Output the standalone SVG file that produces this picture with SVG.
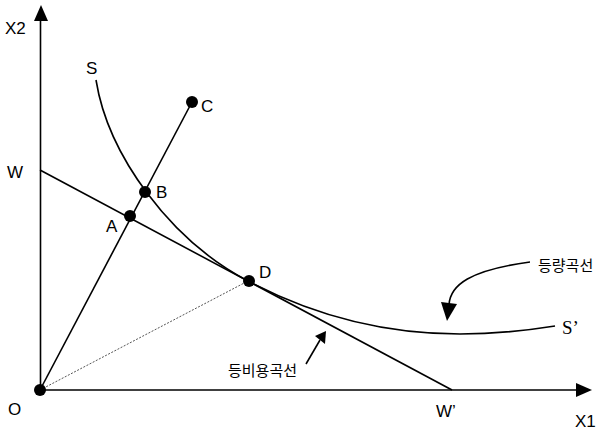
<svg xmlns="http://www.w3.org/2000/svg" width="607" height="432" viewBox="0 0 607 432">
<style>
.ln{stroke:#000;stroke-width:1.6;fill:none}
.lb{font-family:"Liberation Sans",Arial,sans-serif;font-size:17px;fill:#000}
.kr{font-family:"Noto Sans CJK KR",sans-serif;font-size:15px;fill:#000}
.dot{fill:#000}
</style>
<g id="connectors">
<line class="ln" x1="40.5" y1="392" x2="40.5" y2="18"/>
<path d="M34,21 L41,5 L48,21 z" fill="#000"/>
<line class="ln" x1="40" y1="390" x2="578" y2="390"/>
<path d="M576,383 L592,390 L576,397 z" fill="#000"/>
<line class="ln" x1="40" y1="170" x2="452" y2="390"/>
<line class="ln" x1="40" y1="390" x2="192" y2="102"/>
<line x1="40" y1="390" x2="248" y2="281" stroke="#555" stroke-width="1" stroke-dasharray="2,1.5"/>
<path class="ln" d="M96,80 C108,155 170,240 248,281 C320,319 390,334 460,334 C500,334 530,330 555,326"/>
<path class="ln" d="M530,262 C470,270 450,285 449,305"/>
<path d="M441,302 L457,304 L447,321 z" fill="#000"/>
<line class="ln" x1="306" y1="364" x2="320" y2="340"/>
<path d="M315,336 L326,331 L325,344 z" fill="#000"/>
</g>
<g id="O"><circle class="dot" cx="40" cy="390" r="6"/><text class="lb" x="8" y="415">O</text></g>
<g id="A"><circle class="dot" cx="130" cy="216" r="6"/><text class="lb" x="106" y="232">A</text></g>
<g id="B"><circle class="dot" cx="145" cy="192" r="6"/><text class="lb" x="156" y="198">B</text></g>
<g id="C"><circle class="dot" cx="192" cy="102" r="6"/><text class="lb" x="201" y="112">C</text></g>
<g id="D"><circle class="dot" cx="249" cy="281" r="6"/><text class="lb" x="259" y="278">D</text></g>
<g id="W"><text class="lb" x="7" y="178">W</text></g>
<g id="Wp"><text class="lb" x="436" y="417">W’</text></g>
<g id="S"><text class="lb" x="86" y="74">S</text></g>
<g id="Sp"><text x="562" y="334" style="font-family:'Liberation Serif',serif;font-size:19px">S’</text></g>
<g id="X1"><text class="lb" x="575" y="427">X1</text></g>
<g id="X2"><text class="lb" x="5" y="34">X2</text></g>
<g id="iso"><text class="kr" x="538" y="271">등량곡선</text></g>
<g id="isocost"><text class="kr" x="228" y="376">등비용곡선</text></g>
</svg>
